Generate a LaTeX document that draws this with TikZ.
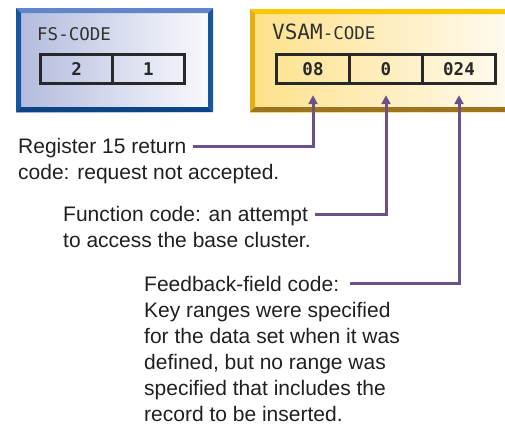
\documentclass[tikz,border=0pt]{standalone}
\usepackage{fontspec}
\setmainfont{Liberation Sans}
\newfontfamily\codefont{DejaVu Sans Mono}
\usetikzlibrary{arrows.meta}
\definecolor{fsL}{RGB}{178,187,222}
\definecolor{fsR}{RGB}{250,250,254}
\definecolor{fsTop}{RGB}{96,134,200}
\definecolor{fsSide}{RGB}{22,86,160}
\definecolor{fsBot}{RGB}{12,68,132}
\definecolor{vsL}{RGB}{253,225,138}
\definecolor{vsR}{RGB}{255,250,238}
\definecolor{vsTop}{RGB}{253,200,0}
\definecolor{vsSide}{RGB}{226,176,18}
\definecolor{vsBot}{RGB}{156,116,30}
\definecolor{conncol}{RGB}{108,80,136}
\definecolor{cellcol}{RGB}{40,40,40}
\definecolor{txtcol}{RGB}{35,31,32}
\definecolor{lblcol}{RGB}{50,50,50}
\begin{document}
\begin{tikzpicture}[x=1pt,y=-1pt,
  lbl/.style={inner sep=0pt, anchor=base west, text=lblcol, font=\codefont\fontsize{17.5}{20}\selectfont},
  cell/.style={draw=cellcol, line width=3pt, minimum height=29.5pt, inner sep=0pt, anchor=north west,
    text=cellcol, font=\codefont\bfseries\fontsize{17.5}{20}\selectfont},
  txt/.style={inner sep=0pt, anchor=base west, align=left, text=txtcol,
    font=\fontsize{21}{26}\selectfont},
  conn/.style={draw=conncol, line width=3pt, -{Triangle[width=9pt,length=9pt]}}]
\useasboundingbox (0,0) rectangle (505,426);

% FS-CODE frame
\shade[left color=fsL, right color=fsR] (16,8) rectangle (213,112);
\fill[fsTop] (16,8) -- (213,8) -- (208,13) -- (21,13) -- cycle;
\fill[fsSide] (16,8) -- (21,13) -- (21,107) -- (16,112) -- cycle;
\fill[fsSide] (213,8) -- (208,13) -- (208,107) -- (213,112) -- cycle;
\fill[fsBot] (16,112) -- (213,112) -- (208,107) -- (21,107) -- cycle;

% VSAM-CODE frame
\shade[left color=vsL, right color=vsR] (250,9) rectangle (505,112);
\fill[vsTop] (250,9) -- (505,9) -- (505,14) -- (255,14) -- cycle;
\fill[vsSide] (250,9) -- (255,14) -- (255,107) -- (250,112) -- cycle;
\fill[vsBot] (250,112) -- (505,112) -- (505,107) -- (255,107) -- cycle;

% labels
\node[lbl] (fslbl) at (37,40) {FS-CODE};
\node[lbl] (vslbl) at (272,39.5) {{\fontsize{21}{24}\selectfont VSAM}-CODE};

% cells
\node[cell, minimum width=71.7pt] (f1) at (39.3,52.7) {2};
\node[cell, minimum width=71.7pt] (f2) at (111,52.7) {1};
\node[cell, minimum width=73pt] (v1) at (275,52.7) {08};
\node[cell, minimum width=73pt] (v2) at (348,52.7) {0};
\node[cell, minimum width=73pt] (v3) at (421,52.7) {024};

% texts (base anchor = baseline of the last line)
\node[txt] (r15) at (18,179) {Register 15 return\\code: request not accepted.};
\node[txt] (fn) at (63,247.5) {Function code: an attempt\\to access the base cluster.};
\node[txt] (fb) at (144,421) {Feedback-field code:\\Key ranges were specified\\for the data set when it was\\defined, but no range was\\specified that includes the\\record to be inserted.};

% connectors
\coordinate (s1) at (193,146.5);
\coordinate (s2) at (315,214);
\coordinate (s3) at (350,283);
\draw[conn] (s1) -| ([yshift=-10pt]v1.south);
\draw[conn] (s2) -| ([yshift=-10pt]v2.south);
\draw[conn] (s3) -| ([yshift=-10pt]v3.south);
\end{tikzpicture}
\end{document}
